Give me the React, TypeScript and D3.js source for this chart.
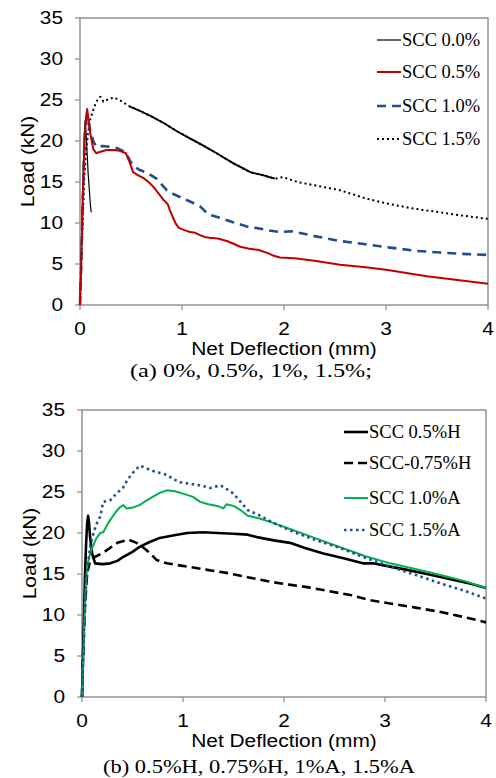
import React from 'react';
import * as d3 from 'd3';

const xTicks = [0, 1, 2, 3, 4];
const yTicks = [0, 5, 10, 15, 20, 25, 30, 35];

// Panel (a)
const scc00: [number, number][] = [[0,0],[0.01,5],[0.02,11],[0.03,16],[0.04,20],[0.05,22.5],[0.06,21],[0.08,16],[0.1,12.5],[0.11,11.3]];
const scc05: [number, number][] = [[0,0],[0.01,4],[0.02,9],[0.03,14],[0.04,18],[0.05,21.5],[0.06,23],[0.07,23.9],[0.08,23],[0.1,21],[0.13,19],[0.16,18.5],[0.2,18.7],[0.26,18.9],[0.33,18.9],[0.39,18.8],[0.45,18.5],[0.49,17.3],[0.52,16.2],[0.57,15.8],[0.62,15.5],[0.68,14.9],[0.72,14.4],[0.77,13.6],[0.82,12.8],[0.86,12.3],[0.88,11.6],[0.91,10.7],[0.94,9.9],[0.97,9.4],[1.03,9.1],[1.08,8.9],[1.13,8.8],[1.18,8.5],[1.22,8.3],[1.27,8.2],[1.35,8.1],[1.44,7.8],[1.5,7.5],[1.57,7.1],[1.65,6.9],[1.75,6.7],[1.85,6.3],[1.9,6.0],[1.96,5.8],[2.1,5.7],[2.3,5.4],[2.55,4.9],[2.8,4.6],[3.0,4.3],[3.2,3.9],[3.4,3.5],[3.6,3.2],[3.8,2.9],[4.0,2.6]];
const scc10: [number, number][] = [[0,0],[0.01,4],[0.02,9],[0.03,14],[0.04,18.5],[0.05,21.3],[0.06,22.3],[0.07,23],[0.08,22.5],[0.1,21.3],[0.13,20],[0.16,19.3],[0.22,19.4],[0.29,19.3],[0.37,19.1],[0.42,18.8],[0.46,18.3],[0.49,17.6],[0.52,17],[0.58,16.5],[0.66,16.1],[0.75,15.4],[0.8,14.7],[0.85,14],[0.92,13.5],[1.01,13],[1.1,12.5],[1.18,12],[1.22,11.5],[1.27,11],[1.38,10.6],[1.5,10.1],[1.58,9.8],[1.65,9.5],[1.73,9.4],[1.85,9.1],[1.96,8.9],[2.08,9.0],[2.3,8.4],[2.55,7.8],[2.8,7.4],[3.04,7.0],[3.3,6.6],[3.53,6.4],[3.8,6.2],[4,6.1]];
const scc15: [number, number][] = [[0,0],[0.02,8],[0.04,15],[0.06,19],[0.08,21],[0.1,22.6],[0.13,23.8],[0.16,24.8],[0.2,25.4],[0.23,24.8],[0.28,25.1],[0.33,25.3],[0.4,24.9],[0.49,24.2],[0.6,23.6],[0.7,23],[0.82,22.2],[0.95,21.2],[1.05,20.5],[1.2,19.5],[1.34,18.5],[1.5,17.3],[1.67,16.2],[1.8,15.8],[1.91,15.4],[1.99,15.6],[2.13,15],[2.3,14.6],[2.55,14.0],[2.8,13.0],[3.0,12.4],[3.25,11.8],[3.53,11.3],[3.75,10.9],[4,10.5]];

// Panel (b)
const h05: [number, number][] = [[0,0],[0.01,5],[0.02,10],[0.03,15],[0.04,18.5],[0.05,21],[0.06,22.1],[0.07,21.2],[0.08,19.5],[0.1,17.5],[0.13,16.3],[0.2,16.2],[0.28,16.3],[0.35,16.6],[0.41,17.1],[0.5,17.7],[0.57,18.3],[0.67,18.9],[0.77,19.4],[0.9,19.7],[1.04,20],[1.2,20.1],[1.34,20],[1.5,19.9],[1.64,19.8],[1.73,19.5],[1.9,19.1],[2.06,18.8],[2.2,18.2],[2.39,17.5],[2.6,16.9],[2.78,16.3],[2.88,16.3],[3.05,15.9],[3.22,15.5],[3.45,14.9],[3.67,14.3],[3.85,13.8],[4,13.3]];
const h075: [number, number][] = [[0,0],[0.01,5],[0.03,11],[0.05,15],[0.08,16.6],[0.13,17.1],[0.21,17.6],[0.28,18.2],[0.35,18.8],[0.46,19.2],[0.54,18.8],[0.6,18.3],[0.64,17.9],[0.7,17.2],[0.74,16.7],[0.84,16.3],[0.94,16.1],[1.1,15.8],[1.24,15.5],[1.45,15.1],[1.64,14.6],[1.89,14.0],[2.05,13.7],[2.23,13.4],[2.45,12.9],[2.67,12.4],[2.85,11.8],[3.05,11.4],[3.3,10.9],[3.54,10.4],[3.8,9.7],[4,9.1]];
const a10: [number, number][] = [[0,0],[0.01,4],[0.02,8],[0.03,11.5],[0.04,14],[0.05,15.8],[0.07,17],[0.1,18.2],[0.14,19.3],[0.18,20],[0.21,20.1],[0.25,21],[0.28,21.6],[0.33,22.5],[0.38,23.2],[0.41,23.4],[0.44,23],[0.5,23.1],[0.57,23.4],[0.63,23.9],[0.7,24.4],[0.77,24.9],[0.84,25.2],[0.92,25.1],[1.0,24.8],[1.1,24.4],[1.17,23.8],[1.25,23.5],[1.34,23.3],[1.4,23.0],[1.43,23.5],[1.5,23.3],[1.57,22.8],[1.64,22.1],[1.75,21.8],[1.9,21.2],[2.1,20.3],[2.3,19.4],[2.55,18.3],[2.8,17.2],[3.05,16.3],[3.3,15.6],[3.54,14.9],[3.8,14.1],[4,13.3]];
const a15: [number, number][] = [[0,0],[0.01,4],[0.02,8],[0.03,11],[0.04,13.5],[0.06,16.2],[0.08,18.3],[0.11,19.8],[0.14,21],[0.18,22],[0.21,23.8],[0.28,24],[0.34,24.8],[0.41,25.6],[0.45,26.5],[0.5,27.3],[0.57,28.2],[0.62,28],[0.67,27.7],[0.75,27.4],[0.84,27.1],[0.9,26.6],[0.97,26.2],[1.07,26],[1.17,25.8],[1.27,25.5],[1.37,25.8],[1.44,25.3],[1.5,24.8],[1.57,23.8],[1.64,22.8],[1.75,22.2],[1.9,21.2],[2.1,20.1],[2.3,19.2],[2.55,18.2],[2.8,17],[3.05,15.9],[3.3,14.9],[3.54,13.9],[3.8,12.9],[4,12.0]];

type Series = { name: string; data: [number, number][]; color: string; width: number; dash?: string; solidRange?: [number, number] };

const seriesA: Series[] = [
  { name: 'SCC 0.0%', data: scc00, color: '#000', width: 1.2 },
  { name: 'SCC 0.5%', data: scc05, color: '#C00000', width: 2 },
  { name: 'SCC 1.0%', data: scc10, color: '#1F4E8C', width: 2.6, dash: '9,6' },
  { name: 'SCC 1.5%', data: scc15, color: '#000', width: 2, dash: '2,3', solidRange: [0.45, 1.93] },
];
const seriesB: Series[] = [
  { name: 'SCC 0.5%H', data: h05, color: '#000', width: 2.6 },
  { name: 'SCC-0.75%H', data: h075, color: '#000', width: 2.6, dash: '9,5' },
  { name: 'SCC 1.0%A', data: a10, color: '#00B050', width: 2 },
  { name: 'SCC 1.5%A', data: a15, color: '#1F4E8C', width: 2.6, dash: '2.5,3.5' },
];
const drawOrderB = [1, 0, 2, 3];

const SANS = '"Liberation Sans", Arial, sans-serif';
const SERIF = '"Liberation Serif", "Times New Roman", serif';
const SX = 1.16; // horizontal stretch of sans labels

type PanelProps = {
  left: number; right: number; top: number; bottom: number;
  series: Series[]; order: number[];
  legendX: number; legendYs: number[];
  tickY: number; labelY: number; caption: string; captionX: number; captionY: number; captionW: number;
};

function SText(props: { x: number; y: number; anchor: string; rot?: number; dy?: string; children: React.ReactNode }) {
  return (
    <text transform={`translate(${props.x},${props.y}) rotate(${props.rot || 0}) scale(${SX},1)`} dy={props.dy}
      textAnchor={props.anchor} fontFamily={SANS} fontSize={18} fill="#000">{props.children}</text>
  );
}

function Panel(p: PanelProps) {
  const x = d3.scaleLinear().domain([0, 4]).range([p.left, p.right]);
  const y = d3.scaleLinear().domain([0, 35]).range([p.bottom, p.top]);
  const line = d3.line<[number, number]>().x(d => x(d[0])).y(d => y(d[1]));
  const frame = '#8a8a8a';
  return (
    <g>
      <rect x={p.left} y={p.top} width={p.right - p.left} height={p.bottom - p.top} fill="none" stroke={frame} strokeWidth={1.4} />
      {yTicks.map(t => (
        <g key={'y' + t}>
          <line x1={p.left - 5} x2={p.left} y1={y(t)} y2={y(t)} stroke={frame} strokeWidth={1.2} />
          <SText x={p.left - 17} y={y(t)} dy="0.36em" anchor="end">{t}</SText>
        </g>
      ))}
      {xTicks.map(t => (
        <g key={'x' + t}>
          <line x1={x(t)} x2={x(t)} y1={p.bottom} y2={p.bottom + 5} stroke={frame} strokeWidth={1.2} />
          <SText x={x(t)} y={p.tickY} anchor="middle">{t}</SText>
        </g>
      ))}
      <SText x={p.left - 46} y={(p.top + p.bottom) / 2} rot={-90} anchor="middle">Load (kN)</SText>
      <SText x={(p.left + p.right) / 2} y={p.labelY} anchor="middle">Net Deflection (mm)</SText>
      <text x={p.captionX} y={p.captionY} textAnchor="middle" fontFamily={SERIF} fontSize={19} fill="#000"
        textLength={p.captionW} lengthAdjust="spacingAndGlyphs">{p.caption}</text>
      {p.order.map(i => {
        const s = p.series[i];
        return (
          <g key={s.name}>
            <path d={line(s.data) || ''} fill="none" stroke={s.color} strokeWidth={s.width} strokeDasharray={s.dash} strokeLinejoin="round" />
            {s.solidRange && (
              <path d={line(s.data.filter(d => d[0] >= s.solidRange![0] && d[0] <= s.solidRange![1])) || ''} fill="none" stroke={s.color} strokeWidth={1.8} />
            )}
          </g>
        );
      })}
      {p.series.map((s, i) => (
        <g key={'lg' + s.name}>
          <line x1={p.legendX} x2={p.legendX + 24} y1={p.legendYs[i]} y2={p.legendYs[i]} stroke={s.color} strokeWidth={s.width} strokeDasharray={s.dash} />
          <text x={p.legendX + 25} y={p.legendYs[i]} dy="0.33em" fontFamily={SERIF} fontSize={18.5} fill="#000">{s.name}</text>
        </g>
      ))}
    </g>
  );
}

export default function App() {
  return (
    <svg width={496} height={778} style={{ position: 'absolute', left: 0, top: 0, background: '#fff' }}>
      <rect width={496} height={778} fill="#fff" />
      <Panel left={80} right={488} top={18} bottom={305} series={seriesA} order={[3, 0, 2, 1]}
        legendX={377} legendYs={[40, 72, 106, 139]} tickY={335} labelY={355}
        caption="(a) 0%, 0.5%, 1%, 1.5%;" captionX={251} captionY={377} captionW={242} />
      <Panel left={82} right={486} top={410} bottom={697} series={seriesB} order={drawOrderB}
        legendX={344} legendYs={[432, 463, 498, 530]} tickY={727} labelY={747}
        caption="(b) 0.5%H, 0.75%H, 1%A, 1.5%A" captionX={259} captionY={773} captionW={312} />
    </svg>
  );
}
